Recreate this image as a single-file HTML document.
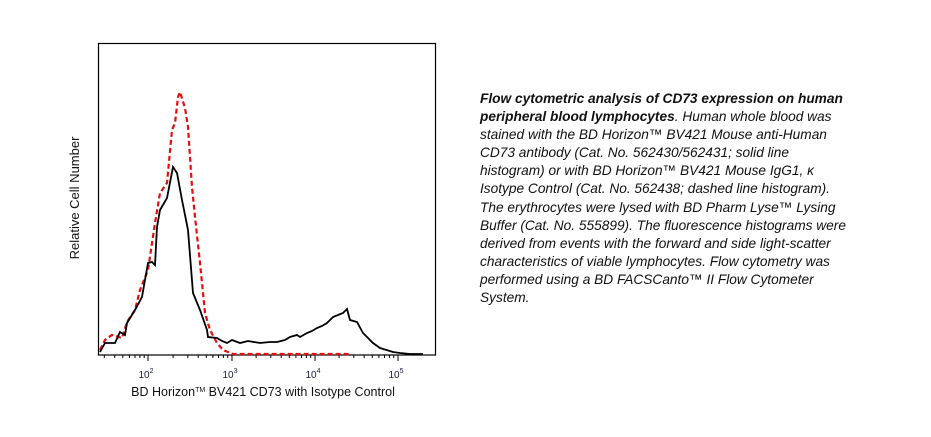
<!DOCTYPE html>
<html><head><style>
body{margin:0;background:#fff;width:931px;height:437px;overflow:hidden;position:relative;font-family:"Liberation Sans",sans-serif}
.cap{position:absolute;left:480px;top:90px;white-space:nowrap;font-size:13.7px;line-height:18.1px;font-style:italic;color:#111}
</style></head><body>
<svg width="931" height="437" style="position:absolute;left:0;top:0" font-family="Liberation Sans, sans-serif">
<defs>
<g id="mn" stroke="#000" stroke-width="1">
<line x1="25.1" y1="355" x2="25.1" y2="358"/>
<line x1="39.8" y1="355" x2="39.8" y2="358"/>
<line x1="50.2" y1="355" x2="50.2" y2="358"/>
<line x1="58.3" y1="355" x2="58.3" y2="358"/>
<line x1="64.9" y1="355" x2="64.9" y2="358"/>
<line x1="70.5" y1="355" x2="70.5" y2="358"/>
<line x1="75.4" y1="355" x2="75.4" y2="358"/>
<line x1="79.7" y1="355" x2="79.7" y2="358"/>
</g>
<clipPath id="cp"><rect x="99" y="340" width="337" height="30"/></clipPath>
</defs>
<rect x="98.5" y="43.5" width="337" height="311.5" fill="none" stroke="#000" stroke-width="1.2"/>
<g stroke="#000" stroke-width="1">
<line x1="148" y1="355" x2="148" y2="361"/><line x1="232" y1="355" x2="232" y2="361"/><line x1="315" y1="355" x2="315" y2="361"/><line x1="398" y1="355" x2="398" y2="361"/>
</g>
<g clip-path="url(#cp)">
<use href="#mn" x="64.5"/><use href="#mn" x="148"/><use href="#mn" x="231"/><use href="#mn" x="314"/>
</g>
<g font-size="10" fill="#1a1a40" text-anchor="middle">
<text x="146" y="378">10<tspan font-size="7" dy="-5">2</tspan></text>
<text x="230" y="378">10<tspan font-size="7" dy="-5">3</tspan></text>
<text x="313" y="378">10<tspan font-size="7" dy="-5">4</tspan></text>
<text x="396" y="378">10<tspan font-size="7" dy="-5">5</tspan></text>
</g>
<text x="263" y="396" font-size="12.5" text-anchor="middle" fill="#111">BD Horizon<tspan font-size="7" dy="-4">TM</tspan><tspan dy="4"> BV421 CD73 with Isotype Control</tspan></text>
<text transform="translate(79,198) rotate(-90)" font-size="13" text-anchor="middle" fill="#111">Relative Cell Number</text>
<polyline fill="none" stroke="#e01010" stroke-width="2.2" stroke-dasharray="5,3" points="100,350 105,340 112,335 122,338 127,322 135,310 140,290 148,270 155,223 160,193 167,183 172,130 175,123 178,97 180,92 185,108 188,127 192,187 195,217 200,263 205,313 210,330 217,343 223,350 233,354 350,354"/>
<polyline fill="none" stroke="#000" stroke-width="1.8" points="100,352 105,343 115,343 120,332 125,335 127,323 135,310 142,297 148,263 152,262 155,265 157,227 160,210 167,198 173,167 177,173 182,200 188,230 193,293 200,310 207,330 208,337 217,338 222,341 227,343 232,340 240,343 248,341 260,343 270,342 277,342 285,340 290,337 297,335 300,337 307,333 312,331 317,328 322,326 327,323 333,317 338,315 343,313 347,309 350,320 357,322 363,333 368,338 373,343 380,348 393,352 400,353 410,354 423,354"/>
</svg>
<div class="cap"><b>Flow cytometric analysis of CD73 expression on human</b><br><b>peripheral blood lymphocytes</b>. Human whole blood was<br>stained with the BD Horizon™ BV421 Mouse anti-Human<br>CD73 antibody (Cat. No. 562430/562431; solid line<br>histogram) or with BD Horizon™ BV421 Mouse IgG1, κ<br>Isotype Control (Cat. No. 562438; dashed line histogram).<br>The erythrocytes were lysed with BD Pharm Lyse™ Lysing<br>Buffer (Cat. No. 555899). The fluorescence histograms were<br>derived from events with the forward and side light-scatter<br>characteristics of viable lymphocytes. Flow cytometry was<br>performed using a BD FACSCanto™ II Flow Cytometer<br>System.</div>
</body></html>
